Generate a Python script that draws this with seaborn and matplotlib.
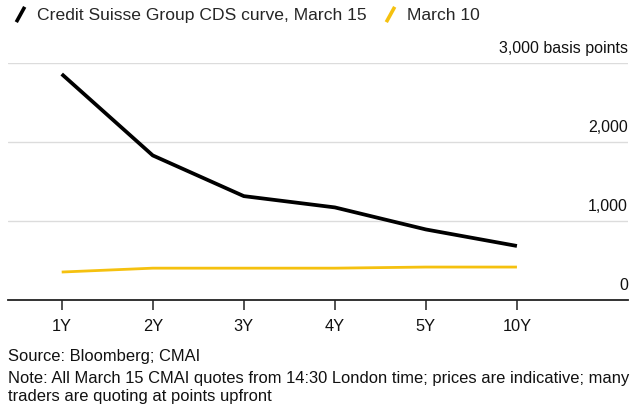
import numpy as np
import pandas as pd
import seaborn as sns
import matplotlib.pyplot as plt
import matplotlib.transforms as mtransforms
from matplotlib.lines import Line2D

tenors = ['1Y', '2Y', '3Y', '4Y', '5Y', '10Y']
march15 = [2860, 1830, 1315, 1172, 893, 684]
march10 = [354, 403, 403, 403, 417, 417]
series_names = ['Credit Suisse Group CDS curve, March 15', 'March 10']
yticks = [0, 1000, 2000, 3000]
ytick_labels = ['0', '1,000', '2,000', '3,000 basis points']

BLACK = '#000000'
YELLOW = '#f5c10f'

df = pd.DataFrame({
  'tenor': tenors * 2,
  'bp': march15 + march10,
  'series': [series_names[0]] * len(tenors) + [series_names[1]] * len(tenors),
})

sns.set_theme(style='white')
plt.rcParams['font.family'] = ['Liberation Sans', 'DejaVu Sans']

fig = plt.figure(figsize=(6.4, 4.12), dpi=100)
ax = fig.add_axes([8 / 640, 1 - 300 / 412, 620 / 640, 237 / 412])

sns.lineplot(
  data=df, x='tenor', y='bp', hue='series',
  palette={series_names[0]: BLACK, series_names[1]: YELLOW},
  ax=ax, legend=False, sort=False,
)
for line, lw in zip(ax.lines, [2.7, 2.0]):
  line.set_linewidth(lw)
  line.set_solid_capstyle('butt')

ax.set_xlim(-0.59, 6.22)
ax.set_ylim(0, 3000)
ax.set_xlabel('')
ax.set_ylabel('')

for s in ['top', 'left', 'right']:
  ax.spines[s].set_visible(False)
ax.spines['bottom'].set_color('#222222')
ax.spines['bottom'].set_linewidth(1.3)

ax.set_yticks(yticks)
ax.set_yticklabels([])
ax.tick_params(axis='y', length=0)
for v in yticks[1:]:
  ax.axhline(v, color='#dcdcdc', lw=1.0, zorder=0)

trans = mtransforms.blended_transform_factory(ax.transAxes, ax.transData)
offset = mtransforms.ScaledTranslation(0, 7 / 100, fig.dpi_scale_trans)
for v, lab in zip(yticks, ytick_labels):
  ax.text(1.0, v, lab, transform=trans + offset, ha='right', va='bottom',
          fontsize=11.5, color='#111111')

ax.set_xticks(range(len(tenors)))
ax.set_xticklabels(tenors)
ax.tick_params(axis='x', length=7, width=1.2, color='#333333', direction='out',
               labelsize=11.8, labelcolor='#111111', pad=7, bottom=True)

handles = [
  Line2D([], [], color=BLACK, marker=[(-0.55, -1), (0.55, 1)], linestyle='none',
         markersize=11, markeredgewidth=2.6),
  Line2D([], [], color=YELLOW, marker=[(-0.55, -1), (0.55, 1)], linestyle='none',
         markersize=11, markeredgewidth=2.6),
]
fig.legend(handles, series_names, loc='upper left', bbox_to_anchor=(0.0, 1.01),
           ncol=2, frameon=False, handlelength=0.9, handletextpad=0.5,
           columnspacing=0.9, fontsize=12.6, borderaxespad=0.3)

fig.text(8 / 640, 1 - 357 / 412, 'Source: Bloomberg; CMAI', ha='left', va='center',
         fontsize=11.9, color='#111111')
fig.text(8 / 640, 1 - 387 / 412,
         'Note: All March 15 CMAI quotes from 14:30 London time; prices are indicative; many\n'
         'traders are quoting at points upfront',
         ha='left', va='center', fontsize=11.9, color='#111111', linespacing=1.25)

fig.savefig('out.png', dpi=100)
